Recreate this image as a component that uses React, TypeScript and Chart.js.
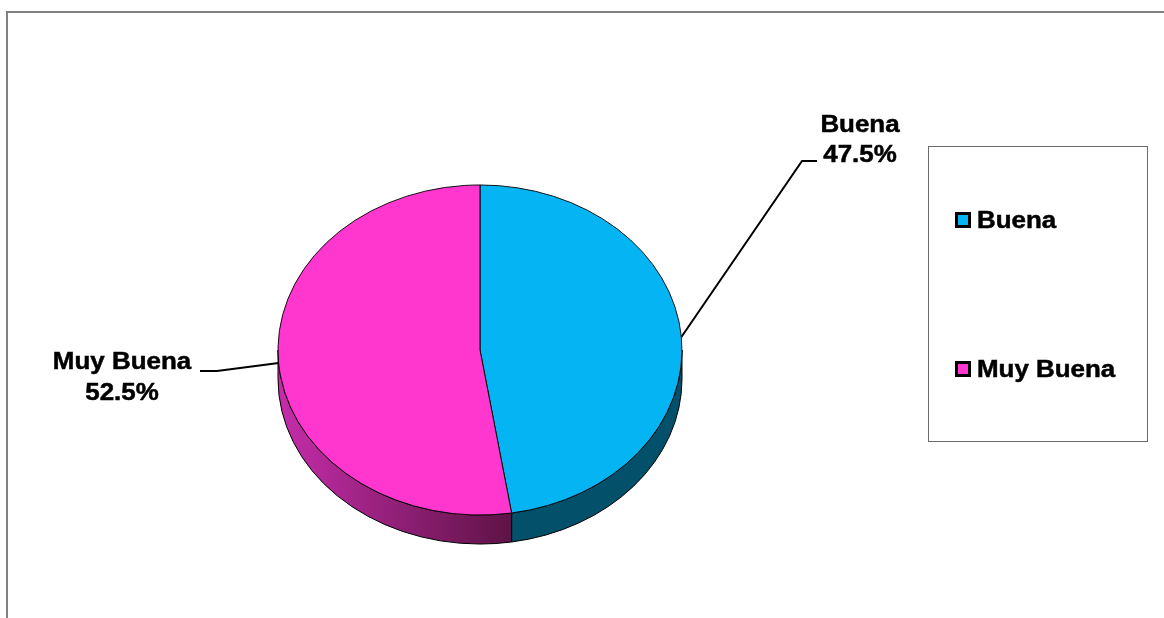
import React, { useEffect, useRef } from "react";
import { Chart, registerables } from "chart.js";

Chart.register(...registerables);

// ---- data ----
const categories = ["Buena", "Muy Buena"];
const values = [47.5, 52.5];
const topColors = ["#05B5F3", "#FF37CF"];
const sideColorsLight = ["#02506A", "#C52DAA"];
const sideColorsDark = ["#01425A", "#5F1346"];

// ---- layout / style ----
const TILT = 0.817;
const DEPTH = 29;
const FONT = 'bold 24px "Liberation Sans", Arial, sans-serif';
const XSTRETCH = 1.08;
const labelLayout = [
  { cx: 860, base: 132, lineGap: 30, knee: [802, 161], end: [817, 161] },
  { cx: 122, base: 369, lineGap: 31, knee: [217, 371], end: [200, 371] },
];
const legendBox = { x: 928, y: 146, w: 219, h: 295 };
const legendItems = [
  { x: 955, y: 212 },
  { x: 955, y: 361 },
];

function stretchedText(ctx: CanvasRenderingContext2D, text: string, x: number, y: number, align: CanvasTextAlign) {
  ctx.save();
  ctx.translate(x, y);
  ctx.scale(XSTRETCH, 1);
  ctx.textAlign = align;
  ctx.textBaseline = "alphabetic";
  ctx.fillText(text, 0, 0);
  ctx.strokeStyle = "#000";
  ctx.lineWidth = 0.5;
  ctx.strokeText(text, 0, 0);
  ctx.restore();
}

const pie3d = {
  id: "pie3d",
  _saved: false,
  beforeDatasetsDraw(chart: any) {
    const ctx: CanvasRenderingContext2D = chart.ctx;
    const arcs = chart.getDatasetMeta(0).data as any[];
    (pie3d as any)._saved = false;
    if (!arcs.length) return;
    const cx = arcs[0].x, cy = arcs[0].y, rx = arcs[0].outerRadius, ry = rx * TILT;
    ctx.save();
    arcs.forEach((arc: any, i: number) => {
      const s = arc.startAngle, e = arc.endAngle;
      for (const shift of [-2 * Math.PI, 0, 2 * Math.PI]) {
        const a = Math.max(s + shift, 0);
        const b = Math.min(e + shift, Math.PI);
        if (b > a) {
          ctx.beginPath();
          ctx.ellipse(cx, cy, rx, ry, 0, a, b, false);
          ctx.ellipse(cx, cy + DEPTH, rx, ry, 0, b, a, true);
          ctx.closePath();
          if (i === 1) {
            const g = ctx.createLinearGradient(cx - rx, 0, cx + rx * 0.15, 0);
            g.addColorStop(0, sideColorsLight[i]);
            g.addColorStop(1, sideColorsDark[i]);
            ctx.fillStyle = g;
          } else {
            ctx.fillStyle = sideColorsLight[i];
          }
          ctx.fill();
          ctx.strokeStyle = "#000";
          ctx.lineWidth = 1;
          ctx.stroke();
        }
      }
    });
    ctx.restore();
    ctx.save();
    ctx.translate(cx, cy);
    ctx.scale(1, TILT);
    ctx.translate(-cx, -cy);
    (pie3d as any)._saved = true;
  },
  afterDatasetsDraw(chart: any) {
    if ((pie3d as any)._saved) chart.ctx.restore();
    (pie3d as any)._saved = false;
  },
  afterDraw(chart: any) {
    const ctx: CanvasRenderingContext2D = chart.ctx;
    ctx.save();
    // outer frame
    ctx.fillStyle = "#808080";
    ctx.fillRect(6, 11, chart.width - 6, 2);
    ctx.fillRect(6, 11, 2, chart.height - 11);

    const arcs = chart.getDatasetMeta(0).data as any[];
    const ds = chart.data.datasets[0];
    const labels = chart.data.labels as string[];
    if (arcs.length) {
      const cx = arcs[0].x, cy = arcs[0].y, rx = arcs[0].outerRadius, ry = rx * TILT;
      arcs.forEach((arc: any, i: number) => {
        const mid = (arc.startAngle + arc.endAngle) / 2;
        const px = cx + rx * Math.cos(mid);
        const py = cy + ry * Math.sin(mid);
        const L = labelLayout[i];
        ctx.beginPath();
        ctx.moveTo(px, py);
        ctx.lineTo(L.knee[0], L.knee[1]);
        ctx.lineTo(L.end[0], L.end[1]);
        ctx.strokeStyle = "#000";
        ctx.lineWidth = 2;
        ctx.stroke();
        ctx.fillStyle = "#000";
        ctx.font = FONT;
        stretchedText(ctx, labels[i], L.cx, L.base, "center");
        stretchedText(ctx, `${(ds.data[i] as number).toFixed(1)}%`, L.cx, L.base + L.lineGap, "center");
      });
    }

    // legend
    ctx.strokeStyle = "#6b6b6b";
    ctx.lineWidth = 1;
    ctx.strokeRect(legendBox.x + 0.5, legendBox.y + 0.5, legendBox.w, legendBox.h);
    labels.forEach((lab, i) => {
      const it = legendItems[i];
      ctx.fillStyle = "#000";
      ctx.fillRect(it.x, it.y, 16, 16);
      ctx.fillStyle = (ds.backgroundColor as string[])[i];
      ctx.fillRect(it.x + 3, it.y + 3, 10, 10);
      ctx.fillStyle = "#000";
      ctx.font = FONT;
      stretchedText(ctx, lab, it.x + 22, it.y + 16, "left");
    });
    ctx.restore();
  },
};

export default function App() {
  const ref = useRef<HTMLCanvasElement | null>(null);
  useEffect(() => {
    if (!ref.current) return;
    const chart = new Chart(ref.current, {
      type: "pie",
      data: {
        labels: categories,
        datasets: [
          {
            data: values,
            backgroundColor: topColors,
            borderColor: "#000",
            borderWidth: 1,
            hoverOffset: 0,
          },
        ],
      },
      options: {
        animation: false,
        responsive: true,
        maintainAspectRatio: false,
        devicePixelRatio: 1,
        layout: { padding: { left: 277.5, right: 481.5, top: 147.5, bottom: 65.5 } },
        plugins: { legend: { display: false }, tooltip: { enabled: false } },
        events: [],
      },
      plugins: [pie3d as any],
    });
    return () => chart.destroy();
  }, []);
  return (
    <div style={{ position: "fixed", left: 0, top: 0, width: 1164, height: 618, background: "#fff" }}>
      <canvas ref={ref} />
    </div>
  );
}
